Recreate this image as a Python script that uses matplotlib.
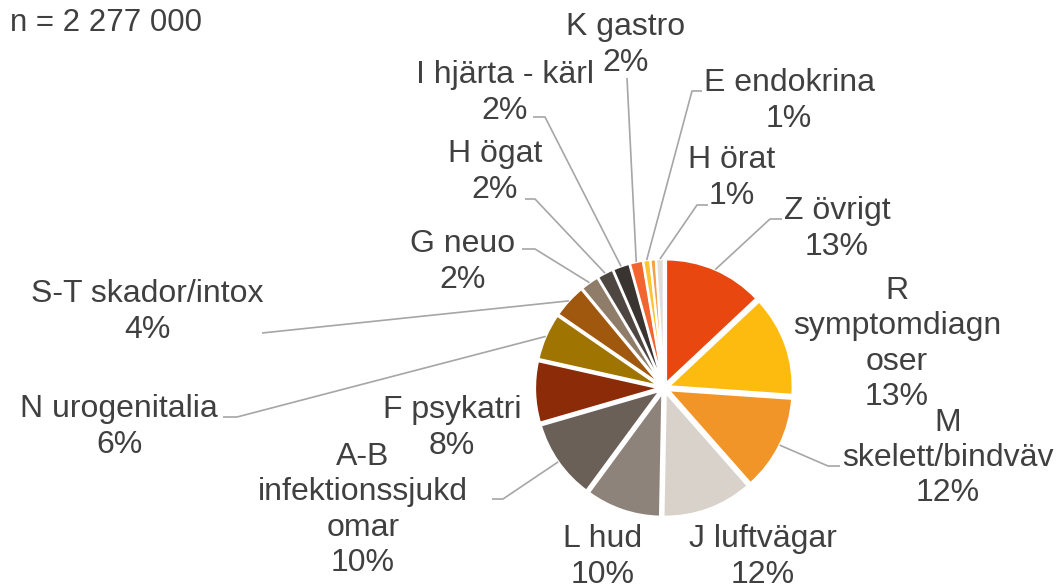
import matplotlib
matplotlib.use("Agg")
import matplotlib.pyplot as plt
import numpy as np

# data: diagnosis groups, clockwise from 12 o'clock
categories = [
    "Z övrigt", "R\nsymptomdiagn\noser", "M\nskelett/bindväv", "J luftvägar",
    "L hud", "A-B\ninfektionssjukd\nomar", "F psykatri", "N urogenitalia",
    "S-T skador/intox", "G neuo", "H ögat", "I hjärta - kärl", "K gastro",
    "E endokrina", "", "H örat",
]
shares = [13.0, 13.1, 12.4, 11.8, 9.8, 10.4, 8.0, 6.1, 4.4, 2.4, 2.1, 2.2, 1.7, 0.9, 0.7, 1.0]
colors = [
    "#E8470F", "#FDBB10", "#F29528", "#D8D2CB", "#8E837A", "#6A6058", "#8B2B08", "#A07400",
    "#A0570E", "#8F7D6A", "#4E4641", "#3A3430", "#F26531", "#FDC432", "#F5A04E", "#E2DDD7",
]
subtitle = "n = 2 277 000"

W, H = 1056, 586
TEXT = "#404040"
LEADER = "#A6A6A6"

# label layout in pixel coords (y from top): text centre, leader start, leader elbow
label_pos = {
    0: (837, 229, (782, 219), (770, 219)),
    1: (897, 344, None, None),
    2: (948, 458, (840, 466), (828, 466)),
    3: (763, 557, None, None),
    4: (603, 557, None, None),
    5: (363, 510, (492, 499), (503, 499)),
    6: (452, 428, None, None),
    7: (119, 427, (223, 417), (237, 417)),
    8: (147, 312, (262, 333), (262, 333)),
    9: (463, 262, (522, 249), (535, 249)),
    10: (495, 172, (525, 199), (535, 199)),
    11: (505, 93, (533, 117), (545, 117)),
    12: (626, 45, (627, 78), (627, 78)),
    13: (789, 101, (702, 91), (692, 91)),
    15: (732, 178, (708, 205), (697, 205)),
}

cx, cy, radius, expl = 664, 388, 124, 5

plt.rcParams["font.family"] = ["Liberation Sans", "DejaVu Sans"]
fig = plt.figure(figsize=(W / 100, H / 100), dpi=100)
ax = fig.add_axes([0, 0, 1, 1])

values = np.array(shares)
ax.pie(
    values,
    colors=colors,
    center=(cx, H - cy),
    radius=radius,
    explode=[expl] * len(values),
    startangle=90,
    counterclock=False,
    wedgeprops=dict(edgecolor="white", linewidth=1.6),
    frame=True,
)
ax.set_xlim(0, W)
ax.set_ylim(0, H)
ax.set_aspect("equal")
ax.axis("off")

# mid angle of every wedge, measured clockwise from the top
frac = values / values.sum()
mids = (np.cumsum(frac) - frac / 2) * 2 * np.pi

for i, (tx, ty, start, elbow) in label_pos.items():
    pct = f"{frac[i] * 100:.0f}%"
    ax.text(tx, H - ty, f"{categories[i]}\n{pct}", ha="center", va="center",
            fontsize=23, color=TEXT, linespacing=1.22)
    if start is None:
        continue
    r_edge = radius + expl
    ex = cx + r_edge * np.sin(mids[i])
    ey = cy - r_edge * np.cos(mids[i])
    xs = [start[0], elbow[0], ex]
    ys = [H - start[1], H - elbow[1], H - ey]
    ax.plot(xs, ys, color=LEADER, lw=1.2, solid_capstyle="butt")

ax.text(10, H - 23, subtitle, ha="left", va="center", fontsize=22.5, color=TEXT)

fig.savefig("out.png", dpi=100)
